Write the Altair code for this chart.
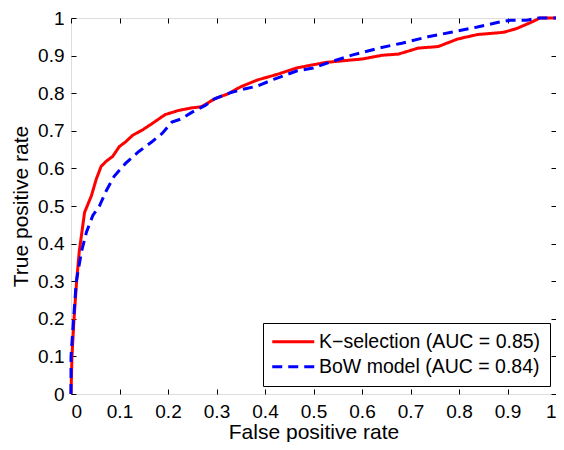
import altair as alt
import pandas as pd

# ---- data ----
series_names = ["K−selection (AUC = 0.85)", "BoW model (AUC = 0.84)"]
series_colors = ["#ff0000", "#0000ff"]

fpr_k = [0, 0.002, 0.006, 0.0116, 0.017, 0.028, 0.042, 0.052, 0.062, 0.0725, 0.086,
         0.0996, 0.113, 0.127, 0.147, 0.167, 0.194, 0.2215, 0.249, 0.269, 0.296, 0.323,
         0.350, 0.384, 0.425, 0.465, 0.4925, 0.526, 0.567, 0.601, 0.642, 0.675, 0.716,
         0.757, 0.797, 0.838, 0.892, 0.919, 0.953, 0.967, 1.0]
tpr_k = [0, 0.10, 0.195, 0.30, 0.379, 0.483, 0.527, 0.571, 0.605, 0.619, 0.632,
         0.658, 0.671, 0.688, 0.702, 0.719, 0.743, 0.754, 0.761, 0.764, 0.785, 0.798,
         0.817, 0.835, 0.850, 0.867, 0.874, 0.882, 0.887, 0.891, 0.901, 0.904, 0.920,
         0.924, 0.944, 0.956, 0.962, 0.972, 0.991, 1.0, 1.0]

fpr_b = [0, 0.0, 0.005, 0.011, 0.0217, 0.032, 0.045, 0.059, 0.0725, 0.089, 0.113,
         0.140, 0.167, 0.188, 0.208, 0.228, 0.249, 0.276, 0.296, 0.330, 0.357, 0.384,
         0.418, 0.465, 0.499, 0.540, 0.581, 0.635, 0.682, 0.736, 0.784, 0.838, 0.879,
         0.906, 0.940, 0.960, 1.0]
tpr_b = [0, 0.099, 0.195, 0.30, 0.379, 0.431, 0.475, 0.501, 0.540, 0.579, 0.614,
         0.645, 0.671, 0.693, 0.723, 0.732, 0.749, 0.767, 0.785, 0.802, 0.811, 0.819,
         0.837, 0.859, 0.867, 0.885, 0.902, 0.920, 0.933, 0.950, 0.962, 0.976, 0.988,
         0.994, 0.994, 1.0, 1.0]

x_ticks = [0, 0.1, 0.2, 0.3, 0.4, 0.5, 0.6, 0.7, 0.8, 0.9, 1]
y_ticks = [0, 0.1, 0.2, 0.3, 0.4, 0.5, 0.6, 0.7, 0.8, 0.9, 1]

rows = []
for name, fs, ts in [(series_names[0], fpr_k, tpr_k), (series_names[1], fpr_b, tpr_b)]:
    for i, (f, t) in enumerate(zip(fs, ts)):
        rows.append({"model": name, "fpr": f, "tpr": t, "idx": i})
df = pd.DataFrame(rows)

W, H = 485, 376
FONT = "Liberation Sans"

xscale = alt.Scale(domain=[0, 1], nice=False, zero=False)
yscale = alt.Scale(domain=[0, 1], nice=False, zero=False)

base = alt.Chart(df)

legend = alt.Legend(
    title=None, orient="none", legendX=192, legendY=305,
    strokeColor="black", fillColor="white", padding=9, cornerRadius=0,
    labelFont=FONT, labelFontSize=19.5, labelColor="black", labelLimit=400,
    symbolType="M-3,0H3", symbolSize=196, symbolStrokeWidth=3,
    symbolOffset=11.5, labelOffset=16, rowPadding=4,
)

lines = base.mark_line(strokeWidth=3).encode(
    x=alt.X("fpr:Q", scale=xscale, axis=alt.Axis(
        orient="bottom", values=x_ticks, format="~g", ticks=False, domain=False, grid=False,
        labelPadding=8, labelFontSize=19, labelFont=FONT, labelColor="black",
        title="False positive rate", titleFont=FONT, titleFontSize=21,
        titleFontWeight="normal", titleColor="black", titlePadding=0)),
    y=alt.Y("tpr:Q", scale=yscale, axis=alt.Axis(
        orient="left", values=y_ticks, format="~g", ticks=False, domain=False, grid=False,
        labelPadding=7, labelFontSize=19, labelFont=FONT, labelColor="black",
        title="True positive rate", titleFont=FONT, titleFontSize=21,
        titleFontWeight="normal", titleColor="black", titlePadding=6)),
    color=alt.Color("model:N", scale=alt.Scale(domain=series_names, range=series_colors),
                    legend=legend),
    strokeDash=alt.StrokeDash("model:N", scale=alt.Scale(domain=series_names,
                                                         range=[[1, 0], [10, 6]]),
                              legend=legend),
    order="idx:Q",
)

tick_common = dict(labels=False, domain=False, grid=False, ticks=True, tickSize=5,
                   tickColor="black", tickWidth=1, title=None)


def tick_layer(xaxis, yaxis):
    return base.mark_line(opacity=0).encode(
        x=alt.X("fpr:Q", scale=xscale, axis=xaxis),
        y=alt.Y("tpr:Q", scale=yscale, axis=yaxis),
        detail="model:N",
        order="idx:Q",
    )


t_bottom = tick_layer(alt.Axis(orient="top", offset=-H, values=x_ticks, **tick_common), None)
t_top = tick_layer(alt.Axis(orient="bottom", offset=-H, values=x_ticks, **tick_common), None)
t_left = tick_layer(None, alt.Axis(orient="right", offset=-W, values=y_ticks, **tick_common))
t_right = tick_layer(None, alt.Axis(orient="left", offset=-W, values=y_ticks, **tick_common))

chart = alt.layer(lines, t_bottom, t_top, t_left, t_right).resolve_axis(
    x="independent", y="independent"
).properties(
    width=W, height=H,
    autosize=alt.AutoSizeParams(type="none"),
    padding={"left": 63, "top": 10, "right": 0, "bottom": 48},
).configure_view(stroke="black", strokeWidth=1).configure(font=FONT)

chart.save("out.html", embed_options={"renderer": "svg", "actions": False})
